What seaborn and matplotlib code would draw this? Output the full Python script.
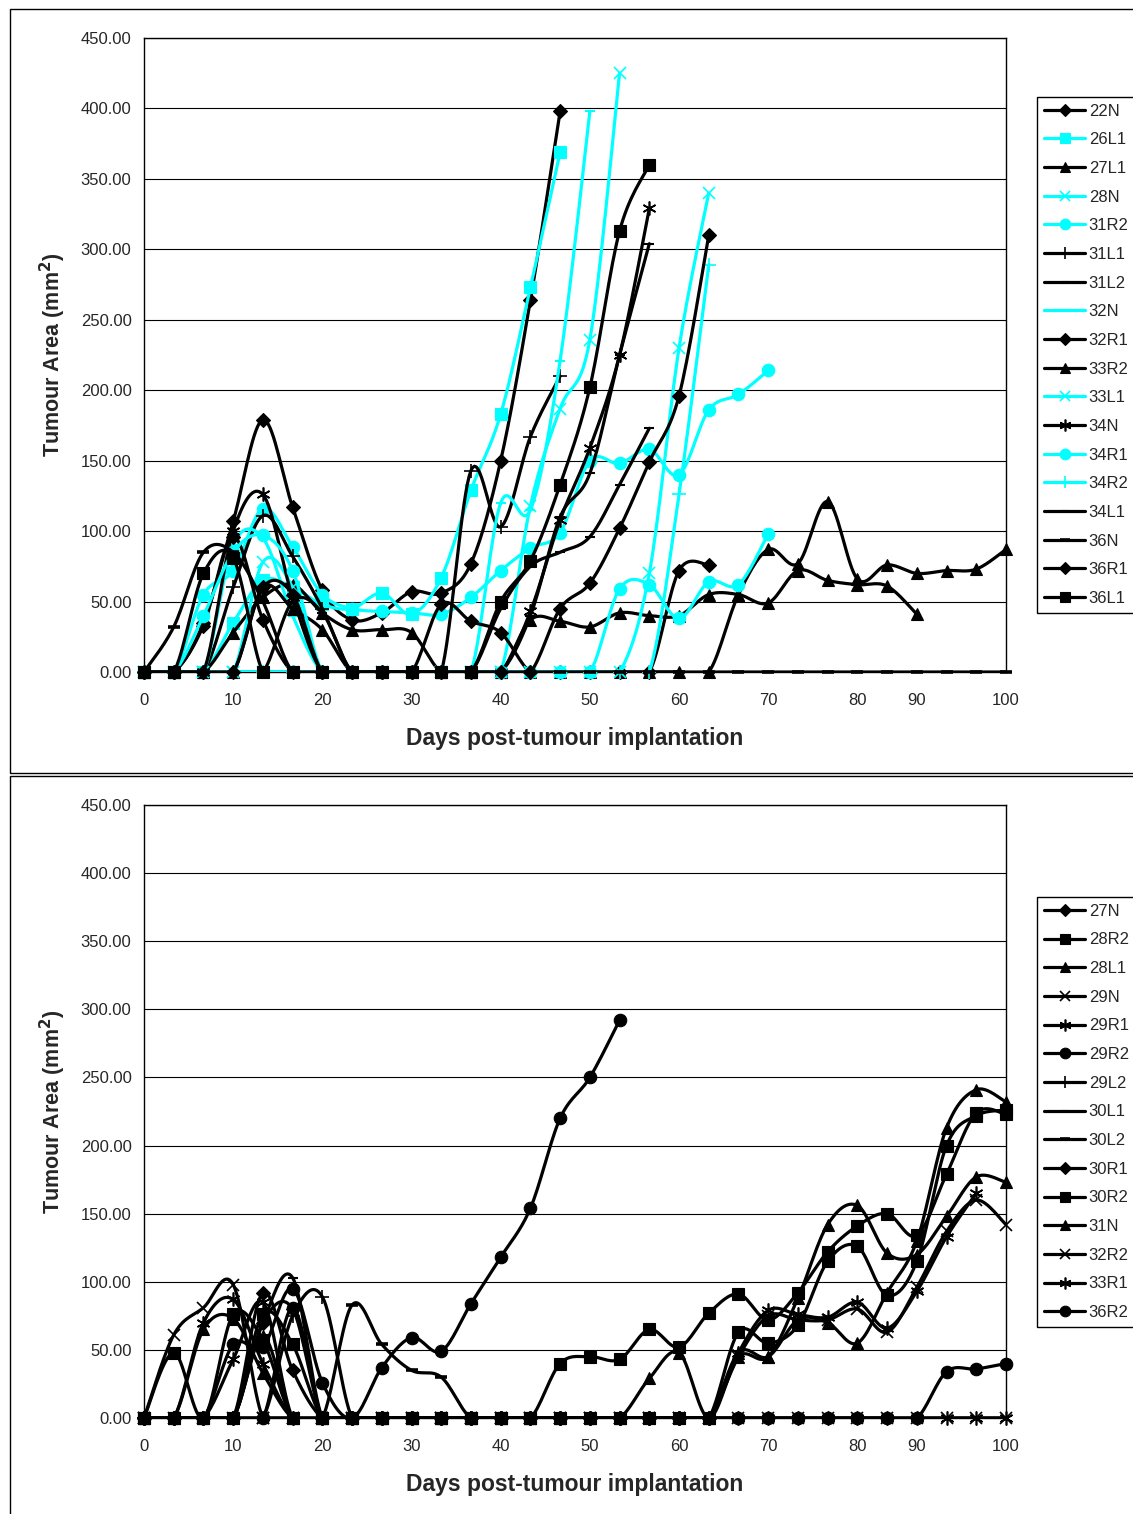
import numpy as np
import pandas as pd
import matplotlib
matplotlib.use("Agg")
import matplotlib.pyplot as plt
from matplotlib.lines import Line2D
from matplotlib.patches import Rectangle
import seaborn as sns

nan = np.nan

# ---------------- data ----------------
# category positions (equally spaced measurement days), labelled every few days
n_cat = 30
tick_pos = [0, 3, 6, 9, 12, 15, 18, 21, 24, 26, 29]
tick_labels = ["0", "10", "20", "30", "40", "50", "60", "70", "80", "90", "100"]
y_ticks = [0, 50, 100, 150, 200, 250, 300, 350, 400, 450]

# top chart
t22N  = [0, 0, 35, 107, 179, 117, 58, 37, 42, 57, 56, 77, 150, 264, 398]
t26L1 = [0, 0, 0, 35, 65, 60, 48, 45, 56, 41, 67, 129, 183, 273, 369]
t27L1 = [0, 0, 0, 28, 53, 62, 42, 30, 30, 28, 0, 0, 0, 37, 36, 32, 42, 40, 40, 55, 55, 49, 72, 65, 62, 61, 41]
t28N  = [0, 0, 0, 0, 78, 60, 0, 0, 0, 0, 0, 0, 0, 118, 187, 236, 425]
t31R2 = [0, 0, 55, 72, 116, 89, 55, 45, 43, 42, 41, 53, 72, 88, 99, 150, 148, 158, 140, 186, 197, 214]
t31L1 = [0, 0, 0, 60, 111, 82, 45, 0, 0, 0, 0, 143, 103, 167, 210]
t31L2 = [0, 0, 0, 0, 0, 0, 0, 0, 0, 0, 0, 0, 0, 40, 110, 141, 225, 304]
t32N  = [0, 0, 0, 90, 95, 40, 0, 0, 0, 0, 0, 0, 120, 115, 221, 398]
t32R1 = [0, 0, 33, 96, 37, 0, 0, 0, 0, 0, 48, 36, 28, 0, 0, 0, 0, 0, 72, 76]
t33R2 = [0, 0, 0, 0, 60, 45, 30, 0, 0, 0, 0, 0, 0, 0, 0, 0, 0, 0, 0, 0, 55, 87, 77, 121, 66, 76, 70, 72, 73, 87]
t33L1 = [0, 0, 0, 0, 0, 0, 0, 0, 0, 0, 0, 0, 0, 0, 0, 0, 0, 70, 230, 340]
t34N  = [0, 0, 0, 100, 126, 53, 0, 0, 0, 0, 0, 0, 0, 43, 108, 159, 225, 329]
t34R1 = [0, 0, 40, 85, 97, 72, 0, 0, 0, 0, 0, 0, 0, 0, 0, 0, 59, 62, 38, 64, 62, 98]
t34R2 = [0, 0, 0, 0, 0, 0, 0, 0, 0, 0, 0, 0, 0, 0, 0, 0, 0, 0, 126, 289]
t34L1 = [0, 0, 0, 0, 0, 50, 42, 0, 0, 0, 0, 0, 45, 75, 85, 96, 133, 173]
t36N  = [0, 32, 85, 85, 50, 0, 0, 0, 0, 0, 0, 0, 0, 0, 0, 0, 0, 0, 0, 0, 0, 0, 0, 0, 0, 0, 0, 0, 0, 0]
t36R1 = [0, 0, 0, 0, 60, 55, 0, 0, 0, 0, 0, 0, 0, 0, 45, 63, 102, 149, 196, 310]
t36L1 = [0, 0, 70, 81, 0, 0, 0, 0, 0, 0, 0, 0, 50, 79, 133, 202, 313, 360]

top_names = ["22N", "26L1", "27L1", "28N", "31R2", "31L1", "31L2", "32N", "32R1",
             "33R2", "33L1", "34N", "34R1", "34R2", "34L1", "36N", "36R1", "36L1"]
top_values = [t22N, t26L1, t27L1, t28N, t31R2, t31L1, t31L2, t32N, t32R1,
              t33R2, t33L1, t34N, t34R1, t34R2, t34L1, t36N, t36R1, t36L1]

# bottom chart
b27N  = [0, 0, 0, 0, 92, 35, 0, 0, 0, 0, 0, 0, 0, 0, 0, 0, 0, 0, 0, 0]
b28R2 = [0, 48, 0, 76, 57, 0, 0, 0, 0, 0, 0, 0, 0, 0, 40, 45, 43, 65, 52, 77, 91, 72, 92, 122, 141, 150, 134, 179, 224, 223]
b28L1 = [0, 0, 65, 73, 33, 0, 0, 0, 0, 0, 0, 0, 0, 0, 0, 0, 0, 29, 48, 0, 45, 45, 88, 142, 156, 121, 120, 148, 177, 173]
b29N  = [0, 61, 81, 98, 0, 0, 0, 0, 0, 0, 0, 0, 0, 0, 0, 0, 0, 0, 0, 0, 0, 0, 0, 0, 0, 0, 0, 0, 0, 0]
b29R1 = [0, 0, 0, 43, 85, 0, 0, 0, 0, 0, 0, 0, 0, 0, 0, 0, 0, 0, 0, 0, 0, 0, 0, 0, 0, 0, 0, 0, 0, 0]
b29R2 = [0, 0, 0, 54, 52, 95, 26, 0, 37, 59, 49, 84, 118, 154, 220, 250, 292]
b29L2 = [0, 0, 0, 0, 0, 75, 89, 0, 0, 0, 0, 0, 0]
b30L1 = [0, 0, 0, 0, 70, 103, 0, 0, 0, 0, 0, 0, 0, 0, 0, 0, 0, 0, 0, 0]
b30L2 = [0, 0, 0, 0, 0, 0, 0, 83, 54, 35, 30, 0, 0, 0, 0, 0, 0, 0, 0, 0]
b30R1 = [0, 0, 0, 0, 70, 80, 0, 0, 0, 0, 0, 0, 0, 0, 0, 0, 0, 0, 0, 0]
b30R2 = [0, 0, 0, 0, 76, 54, 0, 0, 0, 0, 0, 0, 0, 0, 0, 0, 0, 0, 0, 0, 63, 55, 68, 115, 126, 90, 115, 200, 222, 226]
b31N  = [0, 0, 0, 0, 60, 0, 0, 0, 0, 0, 0, 0, 0, 0, 0, 0, 0, 0, 0, 0, 48, 45, 72, 70, 55, 92, 130, 213, 241, 232]
b32R2 = [0, 0, 0, 0, 0, 0, 0, 0, 0, 0, 0, 0, 0, 0, 0, 0, 0, 0, 0, 0, 45, 75, 72, 72, 80, 63, 96, 137, 160, 142]
b33R1 = [0, 0, 70, 87, 40, 0, 0, 0, 0, 0, 0, 0, 0, 0, 0, 0, 0, 0, 0, 0, 48, 79, 76, 74, 85, 66, 93, 133, 165]
b36R2 = [0, 0, 0, 0, 0, 81, 0, 0, 0, 0, 0, 0, 0, 0, 0, 0, 0, 0, 0, 0, 0, 0, 0, 0, 0, 0, 0, 34, 36, 40]

bot_names = ["27N", "28R2", "28L1", "29N", "29R1", "29R2", "29L2", "30L1", "30L2",
             "30R1", "30R2", "31N", "32R2", "33R1", "36R2"]
bot_values = [b27N, b28R2, b28L1, b29N, b29R1, b29R2, b29L2, b30L1, b30L2,
              b30R1, b30R2, b31N, b32R2, b33R1, b36R2]

# ---------------- styles ----------------
CY = "#00FFFF"
BK = "#000000"
AST = (6, 2, 0)
STY = {
    "D": dict(marker="D", ms=7, mew=0.8),
    "s": dict(marker="s", ms=8, mew=0.8),
    "^": dict(marker="^", ms=9, mew=0.8),
    "x": dict(marker="x", ms=8.5, mew=1.2),
    "o": dict(marker="o", ms=9, mew=0.8),
    "+": dict(marker="+", ms=10, mew=1.2),
    "*": dict(marker=AST, ms=10, mew=1.2),
    "-": dict(marker="_", ms=7, mew=1.5),
    "=": dict(marker="_", ms=9, mew=2.6),
}
top_style = [(BK, "D"), (CY, "s"), (BK, "^"), (CY, "x"), (CY, "o"), (BK, "+"), (BK, "-"),
             (CY, "-"), (BK, "D"), (BK, "^"), (CY, "x"), (BK, "*"), (CY, "o"), (CY, "+"),
             (BK, "-"), (BK, "="), (BK, "D"), (BK, "s")]
bot_style = [(BK, "D"), (BK, "s"), (BK, "^"), (BK, "x"), (BK, "*"), (BK, "o"), (BK, "+"),
             (BK, "-"), (BK, "="), (BK, "D"), (BK, "s"), (BK, "^"), (BK, "x"), (BK, "*"), (BK, "o")]

FONT = ["Liberation Sans", "DejaVu Sans"]
sns.set_theme(style="white")
plt.rcParams["font.family"] = FONT


def smooth(vals, n=18):
    y = np.array(vals, dtype=float)
    x = np.arange(len(y), dtype=float)
    P = np.column_stack([x, y])
    m = len(P)
    out = [P[0]]
    for i in range(m - 1):
        p0 = P[i - 1] if i > 0 else P[i]
        p1 = P[i]
        p2 = P[i + 1]
        p3 = P[i + 2] if i + 2 < m else P[i + 1]
        c1 = p1 + (p2 - p0) / 6.0
        c2 = p2 - (p3 - p1) / 6.0
        t = np.linspace(0, 1, n)[1:, None]
        seg = ((1 - t) ** 3) * p1 + 3 * ((1 - t) ** 2) * t * c1 + 3 * (1 - t) * t ** 2 * c2 + t ** 3 * p2
        out.extend(seg)
    out = np.array(out)
    return out[:, 0], out[:, 1]


W, H = 1133, 1514
fig = plt.figure(figsize=(W / 100, H / 100), dpi=100)
fig.patch.set_facecolor("white")

# outer chart-area borders
fig.patches.append(Rectangle((10 / W, 1 - 773 / H), 1.2, (773 - 9) / H, transform=fig.transFigure,
                             fill=False, ec="black", lw=1.0))
fig.patches.append(Rectangle((10 / W, 1 - 1520 / H), 1.2, (1520 - 776) / H, transform=fig.transFigure,
                             fill=False, ec="black", lw=1.0))


def make_panel(rect, names, values, styles, leg_top_px):
    ax = fig.add_axes(rect)
    ax.set_facecolor("white")
    for k, (name, vals, (col, mk)) in enumerate(zip(names, values, styles)):
        xs, ys = smooth(vals)
        df = pd.DataFrame({"x": xs, "y": ys})
        sns.lineplot(data=df, x="x", y="y", ax=ax, color=col, lw=2.3, sort=False,
                     estimator=None, zorder=3 + k * 0.01, legend=False)
        st = STY[mk]
        ax.plot(np.arange(len(vals)), vals, ls="none", marker=st["marker"], ms=st["ms"],
                mew=st["mew"], color=col, mec=col, mfc=col, clip_on=False, zorder=3.005 + k * 0.01)
    ax.set_xlim(0, n_cat - 1)
    ax.set_ylim(0, 450)
    ax.set_yticks(y_ticks)
    ax.set_yticklabels([f"{v:.2f}" for v in y_ticks], fontsize=12)
    ax.set_xticks(np.arange(n_cat))
    labs = [""] * n_cat
    for p, l in zip(tick_pos, tick_labels):
        labs[p] = l
    ax.set_xticklabels(labs, fontsize=12)
    ax.tick_params(axis="both", direction="out", length=5, width=1, color="black", pad=4)
    ax.tick_params(axis="x", pad=10)
    ax.yaxis.grid(True, color="black", lw=0.8)
    ax.xaxis.grid(False)
    ax.set_axisbelow(True)
    for sp in ax.spines.values():
        sp.set_visible(True)
        sp.set_color("black")
        sp.set_linewidth(1.0)
    ax.set_xlabel("Days post-tumour implantation", fontsize=16.5, fontweight="bold", labelpad=14)
    ax.set_ylabel("Tumour Area (mm$^\\mathbf{2}$)", fontsize=15.5, fontweight="bold")
    ax.yaxis.set_label_coords(-0.088, 0.5)

    handles = []
    for (col, mk) in styles:
        st = STY[mk]
        handles.append(Line2D([], [], color=col, lw=2.3, marker=st["marker"], ms=st["ms"] * 0.85,
                              mew=st["mew"], mec=col, mfc=col))
    leg = fig.legend(handles, names, loc="upper left",
                     bbox_to_anchor=(1037 / W, 1 - leg_top_px / H), fontsize=12,
                     frameon=True, fancybox=False, edgecolor="black", framealpha=1,
                     borderpad=0.4, labelspacing=0.82, handlelength=2.5, handletextpad=0.2,
                     borderaxespad=0)
    leg.get_frame().set_linewidth(1.0)
    return ax


make_panel([144 / W, 1 - 672 / H, (1006 - 144) / W, (672 - 38) / H],
           top_names, top_values, top_style, 97)
make_panel([144 / W, 1 - 1418 / H, (1006 - 144) / W, (1418 - 805) / H],
           bot_names, bot_values, bot_style, 897)

fig.savefig("out.png", dpi=100)
